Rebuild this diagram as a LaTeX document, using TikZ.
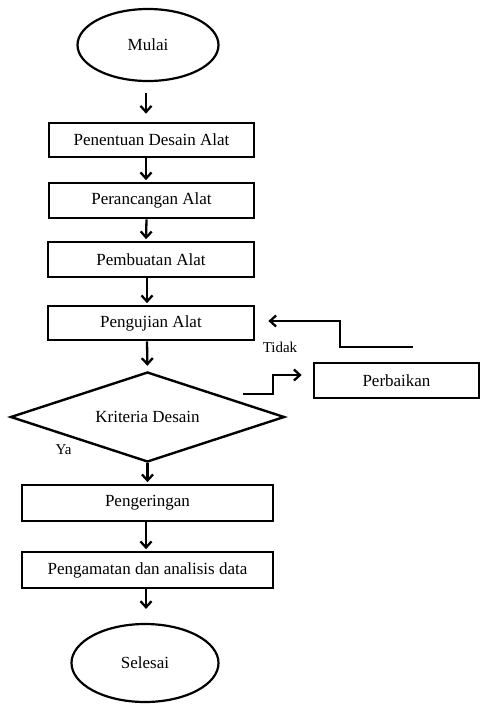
\documentclass[tikz,border=0pt]{standalone}
\usepackage{fontspec}
\setmainfont{Liberation Serif}
\usetikzlibrary{shapes.geometric,arrows.meta,calc}
\begin{document}
\begin{tikzpicture}[x=1pt,y=-1pt,
  boxstyle/.style={draw,line width=2.7pt,rectangle,inner sep=0pt,font=\fontsize{17}{19}\selectfont},
  ovalstyle/.style={draw,line width=2.2pt,ellipse,inner sep=0pt,font=\fontsize{17}{19}\selectfont},
  decstyle/.style={draw,line width=2.4pt,diamond,shape aspect=3.04,inner sep=0pt,font=\fontsize{17}{19}\selectfont},
  arr/.style={line width=2.3pt,-{Straight Barb[length=6pt,width=11pt,line width=2.3pt]}},
  lbl/.style={font=\fontsize{15}{17}\selectfont,inner sep=0pt}]
\useasboundingbox (0,0) rectangle (480,705);
\node[ovalstyle,minimum width=141pt,minimum height=72pt] (mulai) at (148,45) {Mulai};
\node[boxstyle,minimum width=205pt,minimum height=34pt] (b1) at (151.5,140) {Penentuan Desain Alat};
\node[boxstyle,minimum width=205pt,minimum height=35pt] (b2) at (151.5,200.5) {Perancangan Alat};
\node[boxstyle,minimum width=206pt,minimum height=35pt] (b3) at (151,259.5) {Pembuatan Alat};
\node[boxstyle,minimum width=206pt,minimum height=34pt] (b4) at (151,323) {Pengujian Alat};
\node[decstyle,minimum width=274pt,minimum height=90pt] (dec) at (147.5,417) {Kriteria Desain};
\node[boxstyle,minimum width=165pt,minimum height=35pt] (perb) at (396.5,380.5) {Perbaikan};
\node[boxstyle,minimum width=251pt,minimum height=36pt] (peng) at (147.5,503) {Pengeringan};
\node[boxstyle,minimum width=251pt,minimum height=36pt] (anal) at (147.5,570) {Pengamatan dan analisis data};
\node[ovalstyle,minimum width=147pt,minimum height=78pt] (sel) at (145,663) {Selesai};
\node[lbl] (tidak) at (280,347) {Tidak};
\node[lbl] (ya) at (63.5,450) {Ya};
\coordinate (s1) at (243,394);
\coordinate (s2) at (413,347);
\draw[arr,shorten <=11pt,shorten >=8pt] ([xshift=-2pt]mulai.south) -- ([xshift=-5.5pt]b1.north);
\draw[arr,shorten >=1.5pt] ([xshift=-5.5pt]b1.south) -- ([xshift=-5.5pt]b2.north);
\draw[arr,shorten >=1.5pt] ([xshift=-5pt]b2.south) -- ([xshift=-5pt]b3.north);
\draw[arr,shorten >=1.5pt] ([xshift=-4pt]b3.south) -- ([xshift=-4pt]b4.north);
\draw[arr,shorten >=5pt] ([xshift=-4pt]b4.south) -- (dec.north);
\draw[arr,shorten >=1.5pt] (dec.south) -- (peng.north);
\draw[arr,shorten >=1.5pt] ([xshift=-1.5pt]peng.south) -- ([xshift=-1.5pt]anal.north);
\draw[arr,shorten >=14pt] ([xshift=-1.5pt]anal.south) -- ([xshift=-1.5pt,yshift=0pt]anal.south |- sel.north);
\draw[arr,shorten >=11pt] (s1) -- (273,394) |- ([yshift=5.5pt]perb.west);
\draw[arr,shorten >=13pt] (s2) -- (340,347) |- ([yshift=2pt]b4.east);
\end{tikzpicture}
\end{document}
